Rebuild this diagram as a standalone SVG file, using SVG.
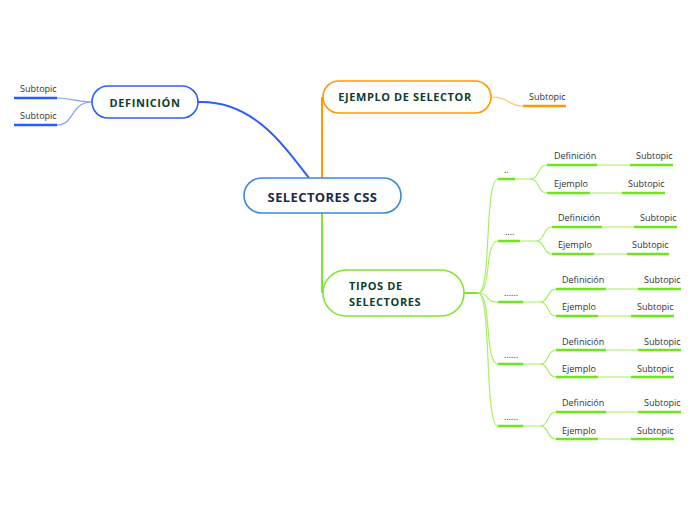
<svg xmlns="http://www.w3.org/2000/svg" width="696" height="520" viewBox="0 0 696 520">
<style>
.t{font-family:"Open Sans","Noto Sans","Liberation Sans",sans-serif;fill:#333;font-size:9px}
.h{font-family:"Open Sans","Noto Sans","Liberation Sans",sans-serif;font-weight:bold;fill:#0f3d2e;font-size:11px;letter-spacing:0.6px}
.gt{stroke:#a8ef66;stroke-width:1.2;fill:none}
.gu{stroke:#6fe61a;stroke-width:2.5;fill:none}
.bu{stroke:#2a5cff;stroke-width:2.5;fill:none}
.ou{stroke:#ff9900;stroke-width:2.5;fill:none}
</style>
<rect width="696" height="520" fill="#fff"/>
<g id="connectors" fill="none">
  <path d="M198,102 C250,100 280,140 309,178" stroke="#2a5cff" stroke-width="2"/>
  <path d="M322,178 L322,97" stroke="#ff9900" stroke-width="2"/>
  <path d="M322,213 L322,293" stroke="#7fe62a" stroke-width="2"/>
  <path d="M92,102 C75,102 72,98 57,98" stroke="#7fa0ff" stroke-width="1.2"/>
  <path d="M92,102 C70,102 75,125 57,125" stroke="#7fa0ff" stroke-width="1.2"/>
  <path d="M491,97 C510,97 508,106 523,106" stroke="#ffc266" stroke-width="1.2"/>
  <path d="M464,293 L478,293" stroke="#7fe62a" stroke-width="2"/>
  <path class="gt" d="M478,293 C492,293 484,179 498,179"/>
  <path class="gt" d="M478,293 C492,293 484,241 498,241"/>
  <path class="gt" d="M478,293 C490,293 484,302 498,302"/>
  <path class="gt" d="M478,293 C492,293 484,364 498,364"/>
  <path class="gt" d="M478,293 C492,293 484,426 498,426"/>
  <path class="gt" d="M515,179 L530,179 C540,179 537,165 547,165 M530,179 C540,179 537,193 547,193"/>
  <path class="gt" d="M520,241 L536,241 C545,241 543,227 552,227 M536,241 C545,241 543,254 552,254"/>
  <path class="gt" d="M523,302 L540,302 C549,302 547,289 556,289 M540,302 C549,302 547,316 556,316"/>
  <path class="gt" d="M523,364 L540,364 C549,364 547,350 556,350 M540,364 C549,364 547,377 556,377"/>
  <path class="gt" d="M523,426 L540,426 C549,426 547,412 556,412 M540,426 C549,426 547,439 556,439"/>
  <path class="gt" d="M597,165 L630,165 M590,193 L622,193"/>
  <path class="gt" d="M602,227 L634,227 M594,254 L627,254"/>
  <path class="gt" d="M606,289 L638,289 M598,316 L631,316"/>
  <path class="gt" d="M606,350 L638,350 M598,377 L631,377"/>
  <path class="gt" d="M606,412 L638,412 M598,439 L631,439"/>
</g>
<g id="central">
  <rect x="244" y="178" width="157" height="35" rx="17.5" fill="#fff" stroke="#3a8ad6" stroke-width="1.6"/>
  <text x="322.5" y="202" text-anchor="middle" font-family="Open Sans,Noto Sans,Liberation Sans,sans-serif" font-weight="bold" font-size="13" letter-spacing="0.4" fill="#1b2a4e">SELECTORES CSS</text>
</g>
<g id="definicion">
  <rect x="92" y="86" width="106" height="32" rx="16" fill="#fff" stroke="#2a5cff" stroke-width="1.6"/>
  <text class="h" x="145" y="107" text-anchor="middle">DEFINICIÓN</text>
</g>
<g id="def-sub1"><text class="t" x="20" y="92">Subtopic</text><path class="bu" d="M14,98 L57,98"/></g>
<g id="def-sub2"><text class="t" x="20" y="119">Subtopic</text><path class="bu" d="M14,125 L57,125"/></g>
<g id="ejemplo">
  <rect x="323" y="81" width="168" height="32" rx="16" fill="#fff" stroke="#ff9900" stroke-width="1.6"/>
  <text class="h" x="405" y="101" text-anchor="middle">EJEMPLO DE SELECTOR</text>
</g>
<g id="ej-sub"><text class="t" x="529" y="100">Subtopic</text><path class="ou" d="M523,106 L566,106"/></g>
<g id="tipos">
  <rect x="323" y="270" width="141" height="46" rx="23" fill="#fff" stroke="#7fe62a" stroke-width="1.6"/>
  <text class="h" x="349" y="290" letter-spacing="0.3">TIPOS DE</text>
  <text class="h" x="349" y="306" letter-spacing="0.3">SELECTORES</text>
</g>
<g id="s1"><text class="t" x="504" y="173">..</text><path class="gu" d="M498,179 L515,179"/></g>
<g id="s1d"><text class="t" x="554" y="159">Definición</text><path class="gu" d="M547,165 L597,165"/></g>
<g id="s1ds"><text class="t" x="636" y="159">Subtopic</text><path class="gu" d="M630,165 L673,165"/></g>
<g id="s1e"><text class="t" x="554" y="187">Ejemplo</text><path class="gu" d="M547,193 L590,193"/></g>
<g id="s1es"><text class="t" x="628" y="187">Subtopic</text><path class="gu" d="M622,193 L665,193"/></g>
<g id="s2"><text class="t" x="505" y="235">....</text><path class="gu" d="M498,241 L520,241"/></g>
<g id="s2d"><text class="t" x="558" y="221">Definición</text><path class="gu" d="M552,227 L602,227"/></g>
<g id="s2ds"><text class="t" x="640" y="221">Subtopic</text><path class="gu" d="M634,227 L677,227"/></g>
<g id="s2e"><text class="t" x="558" y="248">Ejemplo</text><path class="gu" d="M552,254 L594,254"/></g>
<g id="s2es"><text class="t" x="632" y="248">Subtopic</text><path class="gu" d="M627,254 L669,254"/></g>
<g id="s3"><text class="t" x="504" y="296">......</text><path class="gu" d="M498,302 L523,302"/></g>
<g id="s3d"><text class="t" x="562" y="283">Definición</text><path class="gu" d="M556,289 L606,289"/></g>
<g id="s3ds"><text class="t" x="644" y="283">Subtopic</text><path class="gu" d="M638,289 L681,289"/></g>
<g id="s3e"><text class="t" x="562" y="310">Ejemplo</text><path class="gu" d="M556,316 L598,316"/></g>
<g id="s3es"><text class="t" x="637" y="310">Subtopic</text><path class="gu" d="M631,316 L674,316"/></g>
<g id="s4"><text class="t" x="504" y="358">......</text><path class="gu" d="M498,364 L523,364"/></g>
<g id="s4d"><text class="t" x="562" y="345">Definición</text><path class="gu" d="M556,350 L606,350"/></g>
<g id="s4ds"><text class="t" x="644" y="345">Subtopic</text><path class="gu" d="M638,350 L681,350"/></g>
<g id="s4e"><text class="t" x="562" y="372">Ejemplo</text><path class="gu" d="M556,377 L598,377"/></g>
<g id="s4es"><text class="t" x="637" y="372">Subtopic</text><path class="gu" d="M631,377 L674,377"/></g>
<g id="s5"><text class="t" x="504" y="420">......</text><path class="gu" d="M498,426 L523,426"/></g>
<g id="s5d"><text class="t" x="562" y="406">Definición</text><path class="gu" d="M556,412 L606,412"/></g>
<g id="s5ds"><text class="t" x="644" y="406">Subtopic</text><path class="gu" d="M638,412 L681,412"/></g>
<g id="s5e"><text class="t" x="562" y="434">Ejemplo</text><path class="gu" d="M556,439 L598,439"/></g>
<g id="s5es"><text class="t" x="637" y="434">Subtopic</text><path class="gu" d="M631,439 L674,439"/></g>
</svg>
